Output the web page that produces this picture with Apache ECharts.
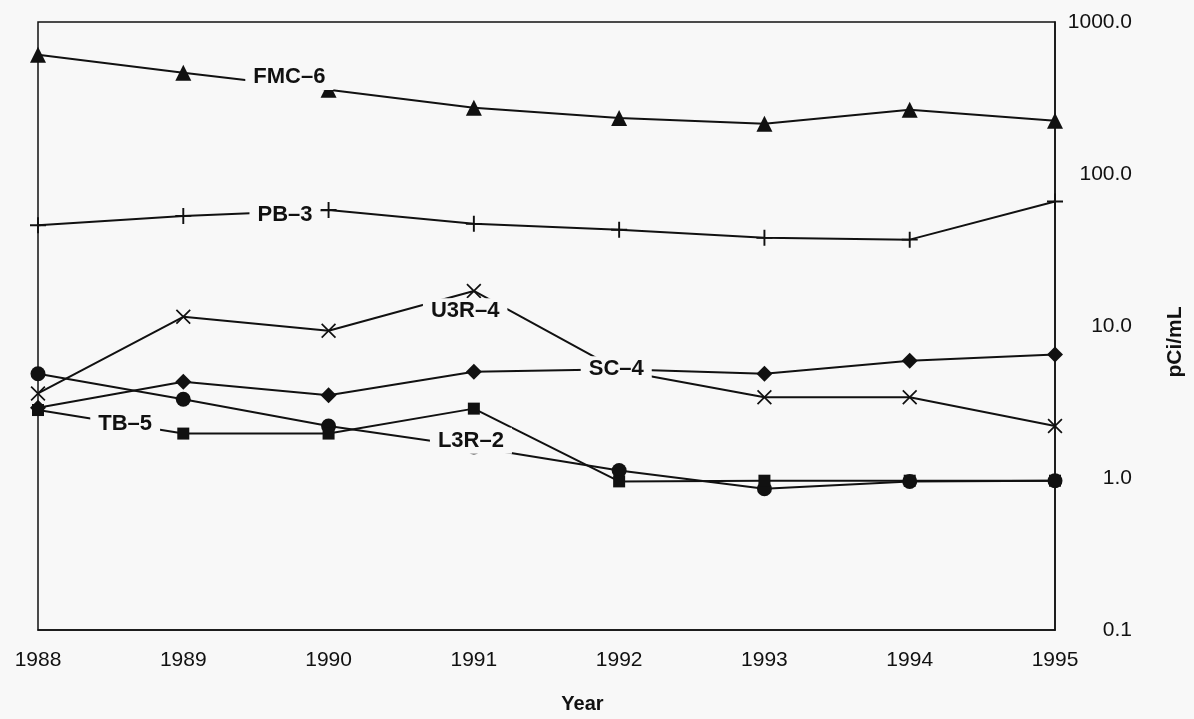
<!DOCTYPE html>
<html>
<head>
<meta charset="utf-8">
<script src="https://cdn.jsdelivr.net/npm/echarts@6/dist/echarts.min.js"></script>
<style>
  html, body { margin: 0; padding: 0; background: #f8f8f8; }
  #chart { width: 1194px; height: 719px; }
</style>
</head>
<body>
<div id="chart"></div>
<script>
const years = [1988, 1989, 1990, 1991, 1992, 1993, 1994, 1995];

// pCi/mL per well (log scale)
const fmc6 = [608, 464, 358, 273, 234, 214, 265, 224];
const pb3 = [46, 53, 58, 47, 43, 38, 37, 66];
const u3r4 = [3.6, 11.5, 9.3, 17.0, 5.1, 3.4, 3.4, 2.2];
const sc4 = [2.9, 4.3, 3.5, 5.0, 5.2, 4.85, 5.9, 6.5];
const l3r2 = [4.85, 3.3, 2.2, 1.6, 1.12, 0.85, 0.95, 0.96];
const tb5 = [2.8, 1.96, 1.96, 2.86, 0.95, 0.96, 0.96, 0.96];

// in-plot series labels
const labelNames = ["FMC–6", "PB–3", "U3R–4", "SC–4", "TB–5", "L3R–2"];
const labelYears = [1989.73, 1989.70, 1990.94, 1991.98, 1988.60, 1990.98];
const labelValues = [435, 53.5, 12.5, 5.2, 2.28, 1.76];

const yTicks = [0.1, 1, 10, 100, 1000];

const PLUS = "path://M8.8,0 H11.2 V20 H8.8 Z M0,8.8 H20 V11.2 H0 Z";
const CROSS = "path://M0,1.6 L1.6,0 L20,18.4 L18.4,20 Z M18.4,0 L20,1.6 L1.6,20 L0,18.4 Z";

const FONT = "'Liberation Sans', Arial, Helvetica, sans-serif";

function line(name, values, symbol, size) {
  return {
    name: name,
    type: "line",
    data: years.map((y, i) => [y, values[i]]),
    symbol: symbol,
    symbolSize: size,
    showSymbol: true,
    clip: true,
    lineStyle: { color: "#111", width: 2 },
    itemStyle: { color: "#111", opacity: 1 },
    animation: false,
    z: 3,
  };
}

const chart = echarts.init(document.getElementById("chart"), null, { renderer: "canvas" });

chart.setOption({
  backgroundColor: "#f8f8f8",
  animation: false,
  grid: {
    left: 38, right: 138, top: 22, bottom: 87,
    show: true, borderColor: "#111", borderWidth: 1.5,
    backgroundColor: "transparent",
  },
  xAxis: {
    type: "value",
    min: 1988, max: 1995, interval: 1,
    name: "Year",
    nameLocation: "middle",
    nameGap: 64,
    nameTextStyle: { color: "#111", fontFamily: FONT, fontSize: 20, fontWeight: "bold", padding: [0, 0, 0, 72] },
    axisLine: { show: true, lineStyle: { color: "#111", width: 1.5 } },
    axisTick: { show: false },
    splitLine: { show: false },
    axisLabel: {
      color: "#111", fontFamily: FONT, fontSize: 21, margin: 20,
      formatter: (v) => String(v),
    },
  },
  yAxis: {
    type: "log",
    logBase: 10,
    min: yTicks[0], max: yTicks[yTicks.length - 1],
    position: "right",
    name: "pCi/mL",
    nameLocation: "middle",
    nameRotate: 90,
    nameGap: 110,
    nameTextStyle: { color: "#111", fontFamily: FONT, fontSize: 21, fontWeight: "bold", padding: [0, 32, 0, 0] },
    axisLine: { show: true, lineStyle: { color: "#111", width: 1.5 } },
    axisTick: { show: false },
    splitLine: { show: false },
    minorTick: { show: false },
    axisLabel: {
      color: "#111", fontFamily: FONT, fontSize: 21, margin: 77, align: "right",
      formatter: (v) => Number(v).toFixed(1),
    },
  },
  series: [
    line("FMC-6", fmc6, "triangle", 16),
    line("PB-3", pb3, PLUS, 16),
    line("U3R-4", u3r4, CROSS, 15),
    line("SC-4", sc4, "diamond", 16),
    line("L3R-2", l3r2, "circle", 15),
    line("TB-5", tb5, "rect", 12),
    {
      name: "labels",
      type: "scatter",
      data: labelYears.map((y, i) => ({ value: [y, labelValues[i]], name: labelNames[i] })),
      symbolSize: 0,
      z: 10,
      animation: false,
      silent: true,
      itemStyle: { opacity: 1 },
      emphasis: { disabled: true },
      label: {
        show: true,
        position: "inside",
        opacity: 1,
        formatter: (p) => p.name,
        color: "#111",
        fontFamily: FONT,
        fontSize: 22,
        fontWeight: "bold",
        backgroundColor: "#f8f8f8",
        padding: [2, 8],
      },
    },
  ],
});
</script>
</body>
</html>
